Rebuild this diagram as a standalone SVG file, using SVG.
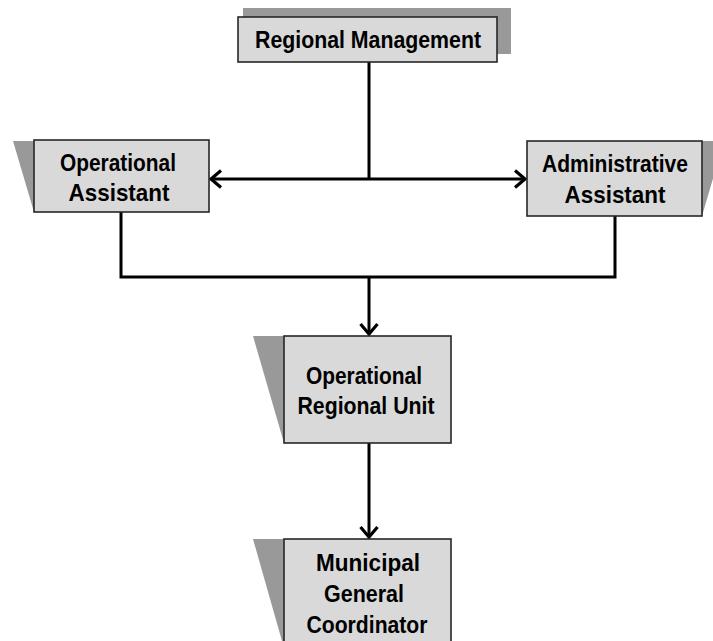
<svg xmlns="http://www.w3.org/2000/svg" width="713" height="641" viewBox="0 0 713 641">
<style>
.box{fill:#d9d9d9;stroke:#262626;stroke-width:1.6}
.sh{fill:#999}
.t{font-family:"Liberation Sans",Arial,sans-serif;font-weight:bold;font-size:24px;fill:#000;text-anchor:middle}
.ln{fill:none;stroke:#000;stroke-width:3}
</style>
<defs>
<marker id="arr" markerWidth="16" markerHeight="22" refX="12" refY="10" orient="auto-start-reverse" markerUnits="userSpaceOnUse" viewBox="0 0 16 22">
<path d="M2,1.5 L12,10 L2,18.5" fill="none" stroke="#000" stroke-width="3.2"/>
</marker>
</defs>
<rect width="713" height="641" fill="#fff"/>
<g id="connectors">
<path class="ln" d="M369,62 V179"/>
<path class="ln" d="M211,179 H525" marker-start="url(#arr)" marker-end="url(#arr)"/>
<path class="ln" d="M121,212 V277 H615 V216"/>
<path class="ln" d="M369,277 V334" marker-end="url(#arr)"/>
<path class="ln" d="M369,443 V537" marker-end="url(#arr)"/>
</g>
<g id="regional-management">
<rect class="sh" x="243" y="8" width="268" height="46"/>
<rect class="box" x="238" y="17" width="259" height="45"/>
<text class="t" x="368" y="48" textLength="226" lengthAdjust="spacingAndGlyphs">Regional Management</text>
</g>
<g id="operational-assistant">
<polygon class="sh" points="13,141 34,141 34,212"/>
<rect class="box" x="34" y="140" width="175" height="72"/>
<text class="t" x="118" y="171" textLength="116" lengthAdjust="spacingAndGlyphs">Operational</text>
<text class="t" x="119" y="201" textLength="101" lengthAdjust="spacingAndGlyphs">Assistant</text>
</g>
<g id="administrative-assistant">
<polygon class="sh" points="702,141 724,141 702,216"/>
<rect class="box" x="527" y="141" width="175" height="75"/>
<text class="t" x="615" y="172" textLength="146" lengthAdjust="spacingAndGlyphs">Administrative</text>
<text class="t" x="615" y="203" textLength="101" lengthAdjust="spacingAndGlyphs">Assistant</text>
</g>
<g id="operational-regional-unit">
<polygon class="sh" points="253,336 284,336 284,443"/>
<rect class="box" x="284" y="336" width="167" height="107"/>
<text class="t" x="364" y="384" textLength="116" lengthAdjust="spacingAndGlyphs">Operational</text>
<text class="t" x="366" y="414" textLength="137" lengthAdjust="spacingAndGlyphs">Regional Unit</text>
</g>
<g id="municipal-general-coordinator">
<polygon class="sh" points="253,539 284,539 284,648"/>
<rect class="box" x="284" y="539" width="167" height="120"/>
<text class="t" x="368" y="571" textLength="104" lengthAdjust="spacingAndGlyphs">Municipal</text>
<text class="t" x="364" y="602" textLength="80" lengthAdjust="spacingAndGlyphs">General</text>
<text class="t" x="367" y="633" textLength="121" lengthAdjust="spacingAndGlyphs">Coordinator</text>
</g>
</svg>
